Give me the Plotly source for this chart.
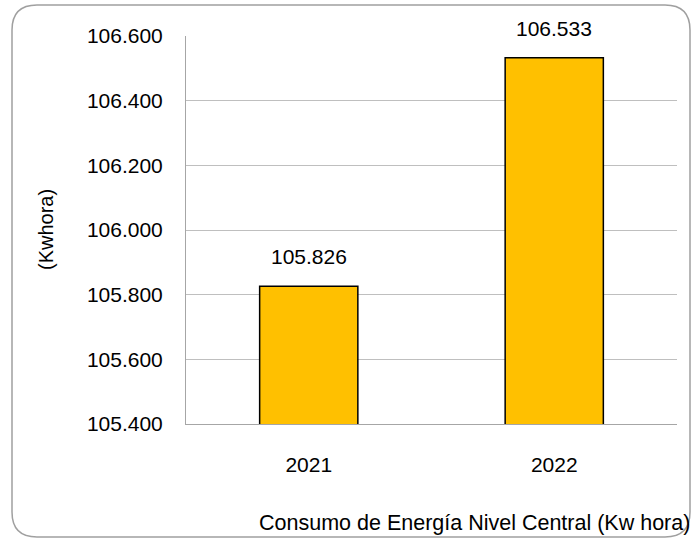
import plotly.graph_objects as go

years = ["2021", "2022"]
consumo = [105826, 106533]
y_ticks = [105400, 105600, 105800, 106000, 106200, 106400, 106600]

W, H = 693, 540
L, T = 186, 36
R = W - 677
B = H - 424
pw, ph = W - L - R, H - T - B

def px(x):
    return (x - L) / pw

def py(y):
    return (H - B - y) / ph

FONT = "Liberation Sans, Arial, sans-serif"

fig = go.Figure(
    go.Bar(
        x=years,
        y=consumo,
        width=0.4,
        marker=dict(color="#FFC000", line=dict(color="#000000", width=1.5)),
        hoverinfo="x+y",
    )
)

labels = [
    dict(x=i, y=v, xref="x", yref="y", text=f"{v:,}".replace(",", "."),
         showarrow=False, yanchor="bottom", yshift=16,
         font=dict(size=21, family=FONT, color="#000000"))
    for i, v in enumerate(consumo)
]

# rounded border
x0, x1, y0, y1, r = 12, 690, 5, 537, 25
rx, ry = r / pw, r / ph
path = (
    f"M {px(x0)+rx},{py(y0)} L {px(x1)-rx},{py(y0)} "
    f"Q {px(x1)},{py(y0)} {px(x1)},{py(y0)-ry} "
    f"L {px(x1)},{py(y1)+ry} Q {px(x1)},{py(y1)} {px(x1)-rx},{py(y1)} "
    f"L {px(x0)+rx},{py(y1)} Q {px(x0)},{py(y1)} {px(x0)},{py(y1)+ry} "
    f"L {px(x0)},{py(y0)-ry} Q {px(x0)},{py(y0)} {px(x0)+rx},{py(y0)} Z"
)

fig.update_layout(
    width=W,
    height=H,
    margin=dict(l=L, r=R, t=T, b=B),
    paper_bgcolor="white",
    plot_bgcolor="white",
    separators=",.",
    showlegend=False,
    font=dict(family=FONT, color="#000000"),
    shapes=[
        dict(type="path", xref="paper", yref="paper", path=path,
             line=dict(color="#A0A0A0", width=1.5), layer="below")
    ],
    annotations=labels + [
        dict(text="(Kwhora)", xref="paper", yref="paper", x=px(46), y=0.5,
             textangle=-90, showarrow=False, font=dict(size=20, family=FONT),
             xanchor="center", yanchor="middle"),
        dict(text="Consumo de Energía Nivel Central (Kw hora)", xref="paper", yref="paper",
             x=px(692), y=py(523), showarrow=False, font=dict(size=21.5, family=FONT),
             xanchor="right", yanchor="middle"),
    ],
)

fig.update_yaxes(
    range=[105400, 106600],
    tickvals=y_ticks,
    tickformat=",.0f",
    tickfont=dict(size=21, family=FONT),
    showgrid=True,
    gridcolor="#BFBFBF",
    gridwidth=1,
    showline=True,
    linecolor="#A6A6A6",
    linewidth=1,
    ticks="",
    ticklabelstandoff=18,
    zeroline=False,
)
fig.update_xaxes(
    type="category",
    range=[-0.5, 1.5],
    tickfont=dict(size=21, family=FONT),
    showline=True,
    linecolor="#A6A6A6",
    linewidth=1,
    ticks="",
    ticklabelstandoff=22,
)

fig.write_html(
    "out.html",
    config={"displayModeBar": False},
    post_script="document.body.style.margin='0';document.body.style.overflow='hidden';",
)
